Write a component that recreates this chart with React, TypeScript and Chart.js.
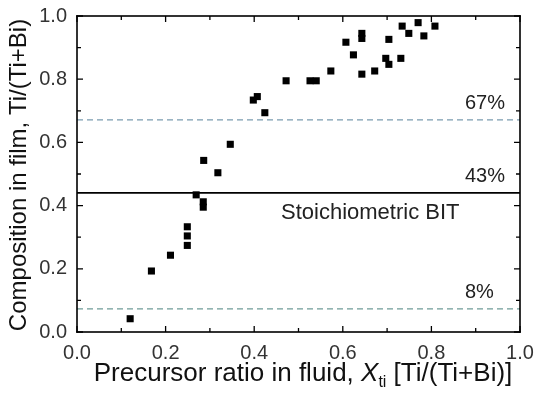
import React, { useEffect, useRef } from "react";
import { Chart, registerables } from "chart.js";

Chart.register(...registerables);

// Precursor ratio in fluid (x) and composition in film (y)
const xFluid = [
  0.12, 0.168, 0.211, 0.249, 0.249, 0.249, 0.269, 0.285, 0.285, 0.286, 0.318,
  0.346, 0.398, 0.407, 0.424, 0.472, 0.526, 0.54, 0.573, 0.607, 0.624, 0.643,
  0.643, 0.643, 0.672, 0.697, 0.704, 0.704, 0.731, 0.734, 0.749, 0.77, 0.783,
  0.808,
];
const yFilm = [
  0.042, 0.193, 0.243, 0.274, 0.304, 0.333, 0.434, 0.412, 0.395, 0.543, 0.504,
  0.594, 0.734, 0.745, 0.694, 0.795, 0.795, 0.795, 0.826, 0.917, 0.877, 0.945,
  0.929, 0.816, 0.826, 0.866, 0.847, 0.926, 0.866, 0.968, 0.945, 0.979, 0.937,
  0.968,
];

// Reference levels
const refLevels = [0.671, 0.44, 0.073];
const refLabels = ["67%", "43%", "8%"];
const refColors = ["#7a9cb0", "#000000", "#6f9c98"];
const refDashed = [true, false, true];
const stoichLabel = "Stoichiometric BIT";

const FONT = "'Liberation Sans', Arial, sans-serif";

const overlayPlugin = {
  id: "overlay",
  afterDraw(chart: any) {
    const ctx = chart.ctx as CanvasRenderingContext2D;
    const { left, right, top, bottom } = chart.chartArea;
    const xs = chart.scales.x;
    const ys = chart.scales.y;
    ctx.save();
    ctx.setLineDash([]);
    ctx.globalAlpha = 1;
    // frame (filled strips)
    ctx.fillStyle = "#000000";
    const w = 1.6;
    const h = w / 2;
    ctx.fillRect(left - h, top - h, right - left + w, w);
    ctx.fillRect(left - h, bottom - h, right - left + w, w);
    ctx.fillRect(left - h, top - h, w, bottom - top + w);
    ctx.fillRect(right - h, top - h, w, bottom - top + w);
    // inward ticks
    ctx.strokeStyle = "#000000";
    ctx.lineWidth = 1.3;
    ctx.beginPath();
    for (let i = 0; i <= 10; i++) {
      const v = i / 10;
      const len = i % 2 === 0 ? 6 : 4;
      const px = xs.getPixelForValue(v);
      const py = ys.getPixelForValue(v);
      ctx.moveTo(px, bottom);
      ctx.lineTo(px, bottom - len);
      ctx.moveTo(px, top);
      ctx.lineTo(px, top + len);
      ctx.moveTo(left, py);
      ctx.lineTo(left + len, py);
      ctx.moveTo(right, py);
      ctx.lineTo(right - len, py);
    }
    ctx.stroke();
    // reference labels
    ctx.fillStyle = "#222";
    ctx.font = `20px ${FONT}`;
    ctx.textBaseline = "middle";
    ctx.textAlign = "left";
    refLevels.forEach((lv, i) => {
      ctx.fillText(refLabels[i], 465, ys.getPixelForValue(lv) - 16);
    });
    ctx.font = `22px ${FONT}`;
    ctx.fillText(stoichLabel, 281, ys.getPixelForValue(refLevels[1]) + 20);

    // y title
    ctx.fillStyle = "#111";
    ctx.save();
    ctx.translate(19, (top + bottom) / 2 + 1);
    ctx.rotate(-Math.PI / 2);
    ctx.font = `24px ${FONT}`;
    ctx.textAlign = "center";
    ctx.textBaseline = "middle";
    ctx.fillText("Composition in film, Ti/(Ti+Bi)", 0, 0);
    ctx.restore();

    // x title with italic X and subscript
    const parts = [
      { t: "Precursor ratio in fluid, ", f: `26px ${FONT}`, dy: 0 },
      { t: "X", f: `italic 26px ${FONT}`, dy: 0 },
      { t: "ti", f: `16px ${FONT}`, dy: 6 },
      { t: " [Ti/(Ti+Bi)]", f: `26px ${FONT}`, dy: 0 },
    ];
    let total = 0;
    parts.forEach((p) => {
      ctx.font = p.f;
      total += ctx.measureText(p.t).width;
    });
    let cx = 303 - total / 2;
    const baseY = 381;
    ctx.textAlign = "left";
    ctx.textBaseline = "alphabetic";
    parts.forEach((p) => {
      ctx.font = p.f;
      ctx.fillText(p.t, cx, baseY + p.dy);
      cx += ctx.measureText(p.t).width;
    });
    ctx.restore();
  },
};

export default function App() {
  const ref = useRef<HTMLCanvasElement>(null);
  useEffect(() => {
    if (!ref.current) return;
    const points = xFluid.map((x, i) => ({ x, y: yFilm[i] }));
    const lineSets = refLevels.map((lv, i) => ({
      type: "line" as const,
      data: [
        { x: 0, y: lv },
        { x: 1, y: lv },
      ],
      borderColor: refColors[i],
      borderWidth: refDashed[i] ? 1.3 : 1.8,
      borderDash: refDashed[i] ? [6, 4] : [],
      pointRadius: 0,
      fill: false,
    }));
    const chart = new Chart(ref.current, {
      type: "scatter",
      data: {
        datasets: [
          ...lineSets,
          {
            type: "scatter" as const,
            data: points,
            backgroundColor: "#000",
            borderColor: "#000",
            borderWidth: 0,
            pointStyle: "rect",
            pointRadius: 5,
          },
        ] as any,
      },
      options: {
        responsive: false,
        animation: false,
        layout: { padding: { top: 16, right: 16, left: 0, bottom: 0 } },
        plugins: {
          legend: { display: false },
          tooltip: { enabled: false },
        },
        scales: {
          x: {
            type: "linear",
            min: 0,
            max: 1,
            grid: { display: false, drawTicks: false },
            border: { display: false },
            ticks: {
              stepSize: 0.2,
              padding: 9,
              color: "#333",
              font: { size: 20, family: FONT },
              callback: (v: any) => Number(v).toFixed(1),
            },
            afterFit: (s: any) => {
              s.height = 64;
              s.paddingLeft = 0;
              s.paddingRight = 0;
            },
          },
          y: {
            type: "linear",
            min: 0,
            max: 1,
            grid: { display: false, drawTicks: false },
            border: { display: false },
            ticks: {
              stepSize: 0.2,
              padding: 10,
              color: "#333",
              font: { size: 20, family: FONT },
              callback: (v: any) => Number(v).toFixed(1),
            },
            afterFit: (s: any) => {
              s.width = 77;
              s.paddingTop = 0;
              s.paddingBottom = 0;
            },
          },
        },
      } as any,
      plugins: [overlayPlugin],
    });
    return () => chart.destroy();
  }, []);
  return (
    <div style={{ position: "fixed", left: 0, top: 0, width: 536, height: 396, background: "#fff" }}>
      <canvas ref={ref} width={536} height={396} />
    </div>
  );
}
